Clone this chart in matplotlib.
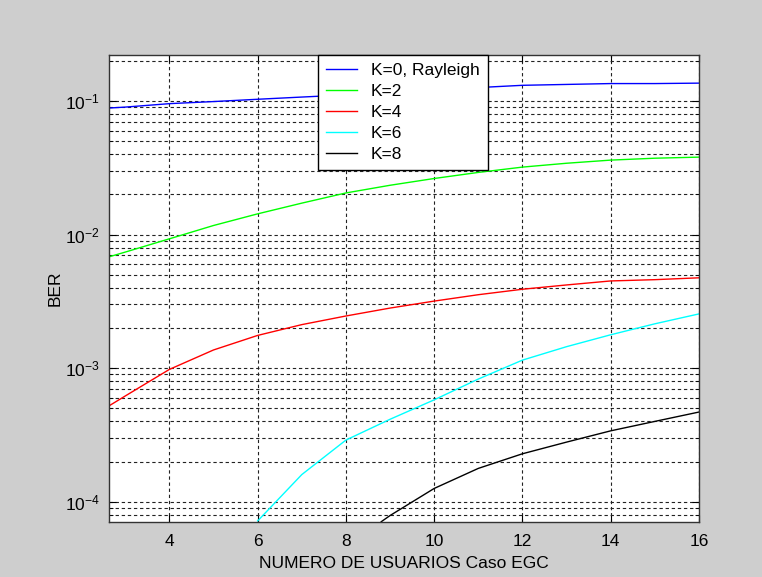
import numpy as np
import matplotlib.pyplot as plt
from matplotlib.ticker import LogLocator, NullFormatter

#data (BER vs number of users, EGC case)
x = [2.62, 3, 4, 5, 6, 7, 8, 9, 10, 11, 12, 13, 14, 15, 16]
ber_k0 = [0.0885, 0.090, 0.0955, 0.099, 0.103, 0.107, 0.111, 0.115, 0.121, 0.126, 0.131, 0.133, 0.135, 0.135, 0.136]
ber_k2 = [0.0068, 0.0074, 0.0093, 0.0117, 0.0143, 0.0172, 0.0205, 0.0234, 0.0263, 0.0292, 0.0320, 0.0342, 0.0361, 0.0373, 0.0380]
ber_k4 = [0.00052, 0.00062, 0.00098, 0.00137, 0.00176, 0.00212, 0.00246, 0.00282, 0.00318, 0.00355, 0.0039, 0.0042, 0.0045, 0.0046, 0.00475]

x_k6 = [6, 7, 8, 9, 10, 11, 12, 13, 14, 15, 16]
ber_k6 = [7.2e-5, 1.6e-4, 2.9e-4, 4.15e-4, 5.8e-4, 8.3e-4, 1.15e-3, 1.45e-3, 1.78e-3, 2.15e-3, 2.55e-3]

x_k8 = [8.8, 9, 10, 11, 12, 13, 14, 15, 16]
ber_k8 = [7.1e-5, 7.9e-5, 1.26e-4, 1.78e-4, 2.29e-4, 2.8e-4, 3.4e-4, 4.0e-4, 4.7e-4]

labels = ['K=0, Rayleigh', 'K=2', 'K=4', 'K=6', 'K=8']
colors = ['#0000ff', '#00ff00', '#ff0000', '#00ffff', '#000000']
xticks = [4, 6, 8, 10, 12, 14, 16]

plt.rcParams['font.family'] = ['Liberation Sans', 'DejaVu Sans']
plt.rcParams['font.size'] = 12.5

fig = plt.figure(figsize=(7.62, 5.77), dpi=100, facecolor='#cecece')
ax = fig.add_axes([0.1424, 0.0958, 0.7749, 0.8094])
ax.set_facecolor('white')

series = [(x, ber_k0), (x, ber_k2), (x, ber_k4), (x_k6, ber_k6), (x_k8, ber_k8)]
for (xs, ys), lab, col in zip(series, labels, colors):
    ax.plot(xs, ys, color=col, linewidth=1.0, label=lab)

ax.set_yscale('log')
ax.set_xlim(2.62, 16)
ax.set_ylim(7.1e-5, 0.222)
ax.set_xticks(xticks)
ax.yaxis.set_major_locator(LogLocator(base=10, numticks=10))
ax.yaxis.set_minor_locator(LogLocator(base=10, subs=np.arange(2, 10), numticks=20))
ax.yaxis.set_minor_formatter(NullFormatter())

#matlab style dashed grid
ax.grid(True, which='major', axis='both', color='#222222', linestyle=(0, (3, 2.5)), linewidth=0.8)
ax.grid(True, which='minor', axis='y', color='#222222', linestyle=(0, (3, 2.5)), linewidth=0.8)
ax.tick_params(which='both', direction='in', top=True, right=True, color='black')
ax.tick_params(which='major', length=5)
ax.tick_params(axis='x', which='major', pad=9)
ax.tick_params(axis='y', which='major', pad=6)
ax.tick_params(which='minor', length=3)
for s in ax.spines.values():
    s.set_color('#333333')
    s.set_linewidth(1.0)

ax.set_xlabel('NUMERO DE USUARIOS Caso EGC', labelpad=5)
ax.set_ylabel('BER', labelpad=2)

leg = ax.legend(loc='upper left', bbox_to_anchor=(0.355, 1.0), borderaxespad=0,
                fancybox=False, edgecolor='black', framealpha=1, handlelength=1.8,
                labelspacing=0.34, borderpad=0.45, handletextpad=0.8)
leg.get_frame().set_linewidth(1.0)

fig.savefig('out.png', dpi=100, facecolor=fig.get_facecolor())
